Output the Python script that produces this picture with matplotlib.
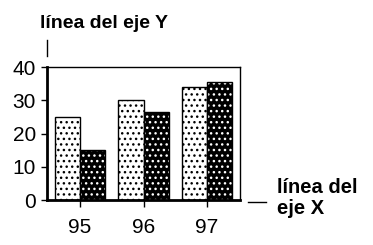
import numpy as np
import matplotlib.pyplot as plt
from matplotlib.lines import Line2D

plt.rcParams['font.family'] = ['Liberation Sans', 'DejaVu Sans']
plt.rcParams['hatch.linewidth'] = 1.0

# ---- datos ----
anios = ["95", "96", "97"]
serie_clara = [25, 30, 34]
serie_oscura = [15, 26.5, 35.5]

W, H = 373, 245
fig = plt.figure(figsize=(W / 100, H / 100), dpi=100)
ax = fig.add_axes([47 / W, 1 - 200 / H, (240 - 47) / W, (200 - 67) / H])

x = np.arange(len(anios))
ancho = 0.40

ax.bar(x - ancho / 2, serie_clara, ancho, facecolor="white", edgecolor="black",
       hatch="...", lw=1)
# barras oscuras: puntos blancos sobre negro, luego el contorno negro encima
ax.bar(x + ancho / 2, serie_oscura, ancho, facecolor="black", edgecolor="white",
       hatch="...", lw=0)
ax.bar(x + ancho / 2, serie_oscura, ancho, fill=False, edgecolor="black", lw=1)

ax.set_xlim(-0.52, 2.52)
ax.set_ylim(0, 40)
ax.set_yticks([0, 10, 20, 30, 40])
ax.set_xticks(x)
ax.set_xticklabels(anios)
ax.tick_params(axis="both", labelsize=15, color="black", width=1, length=4, pad=4)
ax.tick_params(axis="x", length=5, pad=8)

for lado in ["left", "bottom"]:
    ax.spines[lado].set_linewidth(2)
for lado in ["top", "right"]:
    ax.spines[lado].set_linewidth(1)

# rotulos y lineas de llamada
fig.text(40 / W, 1 - 28 / H, "línea del eje Y", fontsize=14, fontweight="bold",
         ha="left", va="baseline")
fig.text(277 / W, 1 - 193 / H, "línea del", fontsize=14.5, fontweight="bold",
         ha="left", va="baseline")
fig.text(277 / W, 1 - 214 / H, "eje X", fontsize=14.5, fontweight="bold",
         ha="left", va="baseline")
fig.add_artist(Line2D([47 / W, 47 / W], [1 - 40 / H, 1 - 56 / H], color="black",
                      lw=1, transform=fig.transFigure))
fig.add_artist(Line2D([248 / W, 266 / W], [1 - 202 / H, 1 - 202 / H], color="black",
                      lw=1, transform=fig.transFigure))

fig.savefig("out.png", dpi=100, facecolor="white")
